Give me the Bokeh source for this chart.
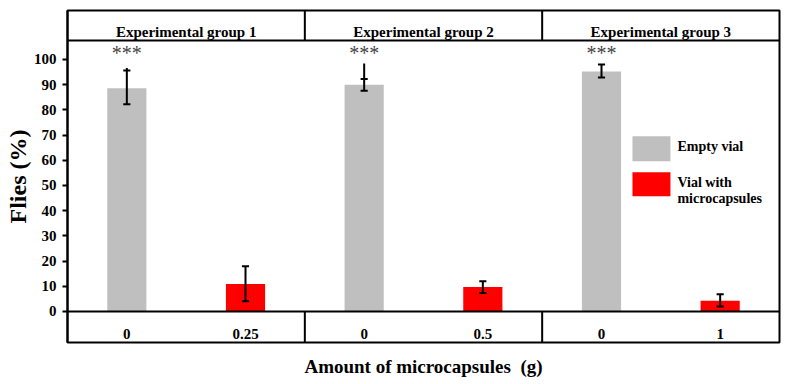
import numpy as np
from bokeh.plotting import figure
from bokeh.models import Range1d, FixedTicker, Span
from bokeh.core.properties import value
from bokeh.embed import file_html
from bokeh.resources import INLINE

# --- data -------------------------------------------------------------
groups = ["Experimental group 1", "Experimental group 2", "Experimental group 3"]
amounts = ["0", "0.25", "0", "0.5", "0", "1"]

empty_mean = [88.6, 89.9, 95.2]
empty_err_lo = [82.2, 87.6, 92.8]
empty_err_hi = [95.6, 92.2, 98.0]
empty_err_top = [96.6, 98.4, 98.0]   # whisker line end

micro_mean = [10.9, 9.7, 4.3]
micro_err_lo = [4.1, 7.3, 2.0]
micro_err_hi = [17.9, 12.0, 6.8]

y_ticks = [0, 10, 20, 30, 40, 50, 60, 70, 80, 90, 100]

# --- styling ----------------------------------------------------------
FONT = value("Liberation Serif")
GRAY = "#bfbfbf"
RED = "#ff0000"
Y_MIN, Y_MAX = -12.3, 119.4
HEADER_Y = 107.5
BAR_W = 0.33
CAP_W = 0.06

n_cat = len(amounts)
x_cat = np.arange(n_cat) + 0.5
x_empty = x_cat[0::2]
x_micro = x_cat[1::2]
x_group = np.arange(len(groups)) * 2 + 1.0
x_div = np.arange(1, len(groups)) * 2.0

p = figure(frame_width=712, frame_height=332,
           min_border_left=67, min_border_right=7,
           min_border_top=10, min_border_bottom=42,
           x_range=Range1d(0, n_cat), y_range=Range1d(Y_MIN, Y_MAX),
           output_backend="svg", toolbar_location=None,
           background_fill_color="white", border_fill_color="white")
p.grid.visible = False
p.outline_line_color = "black"
p.outline_line_width = 2

# y axis
p.yaxis.ticker = FixedTicker(ticks=y_ticks)
p.yaxis.axis_line_width = 2
p.yaxis.major_tick_in = 0
p.yaxis.major_tick_out = 5
p.yaxis.major_tick_line_width = 2
p.yaxis.minor_tick_line_color = None
p.yaxis.major_label_standoff = 6
p.yaxis.major_label_text_font = "Liberation Serif"
p.yaxis.major_label_text_font_style = "bold"
p.yaxis.major_label_text_font_size = "15px"
p.yaxis.major_label_text_color = "black"
p.yaxis.axis_label = "Flies (%)"
p.yaxis.axis_label_text_font = "Liberation Serif"
p.yaxis.axis_label_text_font_style = "bold"
p.yaxis.axis_label_text_font_size = "24px"
p.yaxis.axis_label_text_color = "black"
p.yaxis.axis_label_standoff = 0

# x axis only carries the title
p.xaxis.ticker = FixedTicker(ticks=[])
p.xaxis.axis_line_color = None
p.xaxis.major_tick_line_color = None
p.xaxis.minor_tick_line_color = None
p.xaxis.major_label_text_font_size = "0px"
p.xaxis.axis_label = "Amount of microcapsules\u00a0 (g)"
p.xaxis.axis_label_text_font = "Liberation Serif"
p.xaxis.axis_label_text_font_style = "bold"
p.xaxis.axis_label_text_font_size = "19px"
p.xaxis.axis_label_text_color = "black"
p.xaxis.axis_label_standoff = 13

# frame rules: baseline, header rule and group dividers
p.add_layout(Span(location=0, dimension="width", line_color="black", line_width=2))
p.add_layout(Span(location=HEADER_Y, dimension="width", line_color="black", line_width=2))
p.segment(x0=x_div, y0=[HEADER_Y] * len(x_div), x1=x_div, y1=[Y_MAX] * len(x_div),
          line_color="black", line_width=2)
p.segment(x0=x_div, y0=[Y_MIN] * len(x_div), x1=x_div, y1=[0] * len(x_div),
          line_color="black", line_width=2)

# bars
p.vbar(x=x_empty, top=empty_mean, bottom=0, width=BAR_W, fill_color=GRAY, line_color=None)
p.vbar(x=x_micro, top=micro_mean, bottom=0, width=BAR_W, fill_color=RED, line_color=None)

# error bars
err_x = np.concatenate([x_empty, x_micro])
err_lo = np.array(empty_err_lo + micro_err_lo)
err_hi = np.array(empty_err_hi + micro_err_hi)
err_top = np.array(empty_err_top + micro_err_hi)
p.segment(x0=err_x, y0=err_lo, x1=err_x, y1=err_top, line_color="black", line_width=2)
p.segment(x0=err_x - CAP_W / 2, y0=err_lo, x1=err_x + CAP_W / 2, y1=err_lo,
          line_color="black", line_width=2)
p.segment(x0=err_x - CAP_W / 2, y0=err_hi, x1=err_x + CAP_W / 2, y1=err_hi,
          line_color="black", line_width=2)

# significance marks
p.text(x=x_empty, y=[102.4] * len(x_empty), text=["***"] * len(x_empty),
       text_font=FONT, text_font_size="20px", text_color="#444444",
       text_align="center", text_baseline="alphabetic")

# group headers
p.text(x=x_group, y=[110.8] * len(groups), text=groups,
       text_font=FONT, text_font_style="bold", text_font_size="15px",
       text_color="black", text_align="center", text_baseline="alphabetic")

# amount labels in the bottom band
p.text(x=x_cat, y=[-9.1] * n_cat, text=amounts,
       text_font=FONT, text_font_style="bold", text_font_size="15px",
       text_color="black", text_align="center", text_baseline="alphabetic")

# legend
p.quad(left=[4.761, 4.761], right=[5.081, 5.081], top=[69.5, 55.2], bottom=[59.6, 45.7],
       fill_color=[GRAY, RED], line_color=None)
p.text(x=[5.14, 5.14, 5.14], y=[65.5, 51.3, 45.0],
       text=["Empty vial", "Vial with", "microcapsules"],
       text_font=FONT, text_font_style="bold", text_font_size="14px",
       text_color="black", text_align="left", text_baseline="alphabetic")

open("out.html", "w").write(file_html(p, INLINE))
